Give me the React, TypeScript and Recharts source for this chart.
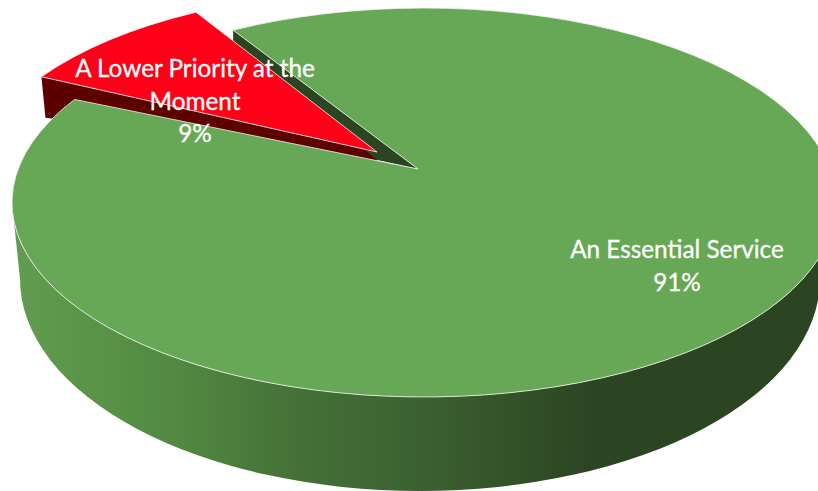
import React from "react";
import { PieChart, Pie } from "recharts";

const categories = ["A Lower Priority at the Moment", "An Essential Service"];
const shares = [9, 91];
const labelLines = [["A Lower Priority at the", "Moment", "9%"], ["An Essential Service", "91%"]];
const rows = categories.map((name, i) => ({ name, value: shares[i] }));

const W = 818, H = 491;
const FONT = "Lato, 'Open Sans', sans-serif";
const RY_RATIO = 194.5 / 412;
const GREEN_APEX = { dx: -6, dy: -33.5 };
const RED_SHIFT = { dx: -41, dy: -17 };
const DEPTH_BOTTOM = { cx: 420, cy: 279, rx: 400, ry: 212 };

// Perspective trim: the picture's slices open slightly narrower than their true share
const drawnAngle = (name: string, a: number, start: number, end: number) => {
  if (name === categories[0]) return 117 + ((a - start) / (end - start)) * 29;
  return 148 + ((a - start) / (end - start)) * 329.6;
};
const pt = (cx: number, cy: number, rx: number, ry: number, deg: number) => {
  const r = (deg * Math.PI) / 180;
  return [cx + rx * Math.cos(r), cy - ry * Math.sin(r)];
};
const fx = (n: number) => n.toFixed(2);

function WallShape(props: any) {
  const { cx, cy, outerRadius: rx, startAngle, endAngle, name, payload } = props;
  const nm = name ?? payload?.name;
  const ry = rx * RY_RATIO;
  const t1 = drawnAngle(nm, endAngle, startAngle, endAngle);
  if (nm === categories[1]) {
    const L = pt(cx, cy, rx, ry, 180);
    const R = pt(cx, cy, rx, ry, 360);
    const b = DEPTH_BOTTOM;
    const bL = [b.cx - b.rx, b.cy];
    const bR = [b.cx + b.rx, b.cy];
    const outer = `M${fx(L[0])} ${fx(L[1])}A${rx} ${fx(ry)} 0 0 0 ${fx(R[0])} ${fx(R[1])}L${bR[0]} ${bR[1]}A${b.rx} ${b.ry} 0 0 1 ${bL[0]} ${bL[1]}Z`;
    const e = pt(cx, cy, rx, ry, t1);
    const ax = cx + GREEN_APEX.dx, ay = cy + GREEN_APEX.dy;
    const inner = `M${fx(e[0])} ${fx(e[1])}L${fx(e[0])} ${fx(e[1] + 12)}L${ax - 41} ${ay - 9}L${ax} ${ay}Z`;
    return (
      <g>
        <defs>
          <linearGradient id="wallGrad" gradientUnits="userSpaceOnUse" x1={12} x2={818} y1={0} y2={0}>
            <stop offset="0" stopColor="#619d50" />
            <stop offset="0.2" stopColor="#538941" />
            <stop offset="0.36" stopColor="#447037" />
            <stop offset="0.52" stopColor="#3b5f30" />
            <stop offset="0.72" stopColor="#2b4522" />
            <stop offset="1" stopColor="#2b4522" />
          </linearGradient>
        </defs>
        <path d={outer} fill="url(#wallGrad)" />
        <path d={inner} fill="#2b4522" />
      </g>
    );
  }
  const ox = cx + RED_SHIFT.dx, oy = cy + RED_SHIFT.dy;
  const ax = ox + GREEN_APEX.dx, ay = oy + GREEN_APEX.dy;
  const e = pt(ox, oy, rx, ry, t1);
  const d = `M${fx(e[0])} ${fx(e[1])}L${fx(ax)} ${fx(ay)}L${fx(ax)} ${fx(ay + 9)}L${fx(e[0] + 4)} ${fx(e[1] + 41)}Z`;
  return <path d={d} fill="#5c0000" />;
}

function TopShape(props: any) {
  const { cx, cy, outerRadius: rx, startAngle, endAngle, name, payload } = props;
  const nm = name ?? payload?.name;
  const ry = rx * RY_RATIO;
  const isRed = nm === categories[0];
  const ox = cx + (isRed ? RED_SHIFT.dx : 0), oy = cy + (isRed ? RED_SHIFT.dy : 0);
  const t0 = drawnAngle(nm, startAngle, startAngle, endAngle);
  const t1 = drawnAngle(nm, endAngle, startAngle, endAngle);
  const a = pt(ox, oy, rx, ry, t0);
  const b = pt(ox, oy, rx, ry, t1);
  const large = t1 - t0 > 180 ? 1 : 0;
  const d = `M${fx(ox + GREEN_APEX.dx)} ${fx(oy + GREEN_APEX.dy)}L${fx(a[0])} ${fx(a[1])}A${rx} ${fx(ry)} 0 ${large} 0 ${fx(b[0])} ${fx(b[1])}Z`;
  return <path d={d} fill={isRed ? "#ff0018" : "#67a857"} stroke="#f2f5f0" strokeWidth={0.8} strokeLinejoin="round" />;
}

const labelAnchors = [
  { x: 195, y: 77 },
  { x: 677, y: 258 },
];
function SliceLabel(props: any) {
  const i = props.index as number;
  const { x, y } = labelAnchors[i];
  return (
    <text x={x} y={y} textAnchor="middle" fill="#ffffff" stroke="#ffffff" strokeWidth={0.3} fontFamily={FONT} fontSize={24.3}>
      {labelLines[i].map((line, k) => (
        <tspan key={k} x={x} y={y + k * 32.5}>{line}</tspan>
      ))}
    </text>
  );
}

export default function App() {
  return (
    <div style={{ position: "absolute", left: 0, top: 0, width: W, height: H, background: "#fff" }}>
      <PieChart width={W} height={H} margin={{ top: 0, right: 0, bottom: 0, left: 0 }}>
        <Pie data={rows} dataKey="value" nameKey="name" cx={424} cy={202.5} outerRadius={412} startAngle={117} endAngle={477}
          shape={WallShape} isAnimationActive={false} legendType="none" label={false} labelLine={false} />
        <Pie data={rows} dataKey="value" nameKey="name" cx={424} cy={202.5} outerRadius={412} startAngle={117} endAngle={477}
          shape={TopShape} isAnimationActive={false} legendType="none" label={SliceLabel} labelLine={false} />
      </PieChart>
    </div>
  );
}
